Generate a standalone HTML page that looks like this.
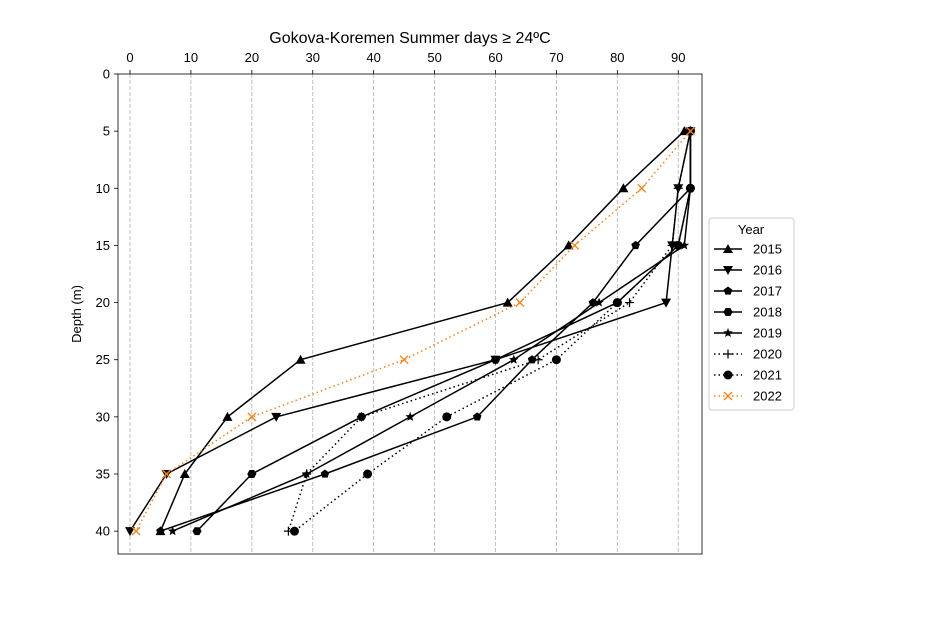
<!DOCTYPE html>
<html><head><meta charset="utf-8"><style>
body{margin:0;background:#fff;}
svg text{font-family:"Liberation Sans","DejaVu Sans",sans-serif;}
</style></head><body>
<svg id="chart" width="942" height="622" xmlns="http://www.w3.org/2000/svg">
<rect width="942" height="622" fill="#fff"/>
<g id="grid"></g><g id="series"></g><g id="axes"></g><g id="legend"></g>
</svg>
<script>
const depths=[5,10,15,20,25,30,35,40];
const years=["2015","2016","2017","2018","2019","2020","2021","2022"];
const v2015=[91,81,72,62,28,16,9,5];
const v2016=[92,90,89,88,60,24,6,0];
const v2017=[92,92,83,76,66,57,32,5];
const v2018=[92,92,90,80,60,38,20,11];
const v2019=[92,92,91,77,63,46,29,7];
const v2020=[92,90,89,82,67,38,29,26];
const v2021=[92,92,90,80,70,52,39,27];
const v2022=[92,84,73,64,45,20,6,1];
const xTicks=[0,10,20,30,40,50,60,70,80,90];
const yTicks=[0,5,10,15,20,25,30,35,40];
const markers=["tri-up","tri-down","pent","hex","star","plus","circle","x"];
const styles=[["#000",""],["#000",""],["#000",""],["#000",""],["#000",""],["#000","1.5,3"],["#000","1.5,3"],["#ff7f0e","1.5,3"]];
const all=[v2015,v2016,v2017,v2018,v2019,v2020,v2021,v2022];
const L=118,R=702,T=74,B=554,xmin=-1.97,xmax=93.9,ymin=0,ymax=42.0;
const X=v=>L+(v-xmin)/(xmax-xmin)*(R-L);
const Y=v=>T+(v-ymin)/(ymax-ymin)*(B-T);
const NS="http://www.w3.org/2000/svg";
function mk(tag,attrs,parent){const e=document.createElementNS(NS,tag);for(const k in attrs)e.setAttribute(k,attrs[k]);parent.appendChild(e);return e;}
const grid=document.getElementById('grid'),axes=document.getElementById('axes'),ser=document.getElementById('series'),leg=document.getElementById('legend');
xTicks.forEach(t=>{
 const g=mk('line',{x1:X(t),x2:X(t),y1:T,y2:B,stroke:'#b0b0b0','stroke-dasharray':'4,2','stroke-width':0.8},grid);
 
 
 mk('line',{x1:X(t),x2:X(t),y1:T,y2:T-4,stroke:'#000','stroke-width':0.8},axes);
 const tx=mk('text',{x:X(t),y:T-12,'text-anchor':'middle','font-size':13},axes);tx.textContent=t;
 
 
});
yTicks.forEach(t=>{
 mk('line',{x1:L,x2:L-4,y1:Y(t),y2:Y(t),stroke:'#000','stroke-width':0.8},axes);
 const tx=mk('text',{x:L-8,y:Y(t)+4.5,'text-anchor':'end','font-size':13},axes);tx.textContent=t;
 
 
});
const fr=mk('rect',{x:L,y:T,width:R-L,height:B-T,fill:'none',stroke:'#000','stroke-width':0.8},axes);


const ti=mk('text',{x:410,y:43,'text-anchor':'middle','font-size':16},axes);ti.textContent='Gokova-Koremen Summer days ≥ 24ºC';


const yl=mk('text',{x:0,y:0,'text-anchor':'middle','font-size':13,transform:'translate(81,314) rotate(-90)'},axes);yl.textContent='Depth (m)';


function marker(type,x,y,c,p){
 const s=5;let e;
 if(type=='tri-up')e=mk('path',{d:`M${x},${y-s} L${x+s},${y+s*0.8} L${x-s},${y+s*0.8}Z`,fill:c},p);
 else if(type=='tri-down')e=mk('path',{d:`M${x},${y+s} L${x+s},${y-s*0.8} L${x-s},${y-s*0.8}Z`,fill:c},p);
 else if(type=='pent'||type=='hex'||type=='star'){
  let pts=[];const n=type=='pent'?5:type=='hex'?6:10;
  for(let i=0;i<n;i++){const a=-Math.PI/2+i*2*Math.PI/n;const r=type=='star'?(i%2?2.2:5):(type=='hex'?4.6:4.5);pts.push((x+r*Math.cos(type=='hex'?a+Math.PI/6:a)).toFixed(1)+','+(y+r*Math.sin(type=='hex'?a+Math.PI/6:a)).toFixed(1));}
  e=mk('polygon',{points:pts.join(' '),fill:c},p);
 }
 else if(type=='plus')e=mk('path',{d:`M${x-4.5},${y}H${x+4.5}M${x},${y-4.5}V${y+4.5}`,stroke:c,'stroke-width':1.2},p);
 else if(type=='circle')e=mk('circle',{cx:x,cy:y,r:4.5,fill:c},p);
 else e=mk('path',{d:`M${x-4},${y-4}L${x+4},${y+4}M${x-4},${y+4}L${x+4},${y-4}`,stroke:c,'stroke-width':1.3},p);
 return e;
}
all.forEach((vals,i)=>{
 const g=mk('g',{},ser);
 
 
 const d=vals.map((v,j)=>(j?'L':'M')+X(v).toFixed(1)+','+Y(depths[j]).toFixed(1)).join(' ');
 const ln=mk('path',{d:d,fill:'none',stroke:styles[i][0],'stroke-width':1.5,'stroke-dasharray':styles[i][1]},g);
 
 
 vals.forEach((v,j)=>{const m=marker(markers[i],X(v),Y(depths[j]),styles[i][0],g);
  
  });
});
const lb=mk('rect',{x:709,y:218,width:85,height:192,rx:3,fill:'#fff',stroke:'#ccc','stroke-width':1},leg);


const lt=mk('text',{x:751,y:234,'text-anchor':'middle','font-size':13},leg);lt.textContent='Year';


years.forEach((yr,i)=>{
 const yy=249+i*21;
 const g=mk('g',{},leg);
 
 
 mk('line',{x1:714,x2:742,y1:yy,y2:yy,stroke:styles[i][0],'stroke-width':1.5,'stroke-dasharray':styles[i][1]},g);
 marker(markers[i],728,yy,styles[i][0],g);
 const t=mk('text',{x:753,y:yy+4.5,'font-size':13},g);t.textContent=yr;
});
</script>
</body></html>
